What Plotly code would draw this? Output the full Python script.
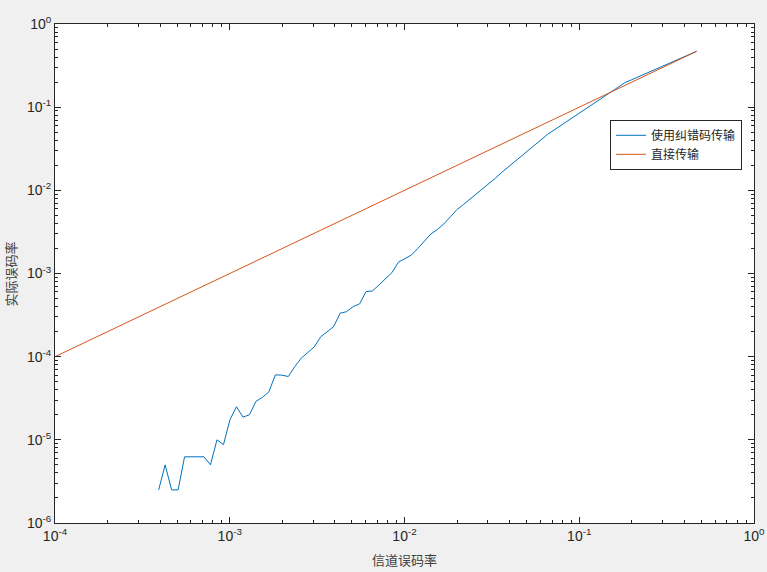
import plotly.graph_objects as go

# Channel bit-error-rate grid (x axis)
channel_ber = [
    1.0000e-4, 1.0891e-4, 1.1862e-4, 1.2918e-4, 1.4070e-4, 1.5323e-4, 1.6689e-4, 1.8176e-4, 1.9796e-4, 2.1560e-4,
    2.3481e-4, 2.5574e-4, 2.7853e-4, 3.0335e-4, 3.3039e-4, 3.5983e-4, 3.9190e-4, 4.2682e-4, 4.6486e-4, 5.0629e-4,
    5.5140e-4, 6.0054e-4, 6.5406e-4, 7.1235e-4, 7.7583e-4, 8.4497e-4, 9.2027e-4, 1.0034e-3, 1.0928e-3, 1.1903e-3,
    1.2962e-3, 1.4118e-3, 1.5375e-3, 1.6746e-3, 1.8238e-3, 1.9864e-3, 2.1634e-3, 2.3561e-3, 2.5661e-3, 2.7948e-3,
    3.0439e-3, 3.3152e-3, 3.6106e-3, 3.9324e-3, 4.2828e-3, 4.6645e-3, 5.0802e-3, 5.5329e-3, 6.0259e-3, 6.5630e-3,
    7.1479e-3, 7.7848e-3, 8.4786e-3, 9.2342e-3, 1.0068e-2, 1.0965e-2, 1.1944e-2, 1.3006e-2, 1.4166e-2, 1.5428e-2,
    1.6803e-2, 1.8300e-2, 1.9932e-2, 2.1708e-2, 2.3642e-2, 2.5749e-2, 2.8044e-2, 3.0543e-2, 3.3265e-2, 3.6229e-2,
    3.9459e-2, 4.2975e-2, 4.6805e-2, 5.0976e-2, 5.5518e-2, 6.0466e-2, 6.5855e-2, 7.1723e-2, 7.8114e-2, 8.5076e-2,
    9.2658e-2, 1.0102e-1, 1.1003e-1, 1.1985e-1, 1.3051e-1, 1.4214e-1, 1.5481e-1, 1.6861e-1, 1.8363e-1, 2.0000e-1,
    2.1782e-1, 2.3723e-1, 2.5837e-1, 2.8140e-1, 3.0648e-1, 3.3379e-1, 3.6354e-1, 3.9594e-1, 4.3122e-1, 4.6966e-1,
]

# Direct transmission: actual BER equals channel BER
direct_ber = [
    1.0000e-4, 1.0891e-4, 1.1862e-4, 1.2918e-4, 1.4070e-4, 1.5323e-4, 1.6689e-4, 1.8176e-4, 1.9796e-4, 2.1560e-4,
    2.3481e-4, 2.5574e-4, 2.7853e-4, 3.0335e-4, 3.3039e-4, 3.5983e-4, 3.9190e-4, 4.2682e-4, 4.6486e-4, 5.0629e-4,
    5.5140e-4, 6.0054e-4, 6.5406e-4, 7.1235e-4, 7.7583e-4, 8.4497e-4, 9.2027e-4, 1.0034e-3, 1.0928e-3, 1.1903e-3,
    1.2962e-3, 1.4118e-3, 1.5375e-3, 1.6746e-3, 1.8238e-3, 1.9864e-3, 2.1634e-3, 2.3561e-3, 2.5661e-3, 2.7948e-3,
    3.0439e-3, 3.3152e-3, 3.6106e-3, 3.9324e-3, 4.2828e-3, 4.6645e-3, 5.0802e-3, 5.5329e-3, 6.0259e-3, 6.5630e-3,
    7.1479e-3, 7.7848e-3, 8.4786e-3, 9.2342e-3, 1.0068e-2, 1.0965e-2, 1.1944e-2, 1.3006e-2, 1.4166e-2, 1.5428e-2,
    1.6803e-2, 1.8300e-2, 1.9932e-2, 2.1708e-2, 2.3642e-2, 2.5749e-2, 2.8044e-2, 3.0543e-2, 3.3265e-2, 3.6229e-2,
    3.9459e-2, 4.2975e-2, 4.6805e-2, 5.0976e-2, 5.5518e-2, 6.0466e-2, 6.5855e-2, 7.1723e-2, 7.8114e-2, 8.5076e-2,
    9.2658e-2, 1.0102e-1, 1.1003e-1, 1.1985e-1, 1.3051e-1, 1.4214e-1, 1.5481e-1, 1.6861e-1, 1.8363e-1, 2.0000e-1,
    2.1782e-1, 2.3723e-1, 2.5837e-1, 2.8140e-1, 3.0648e-1, 3.3379e-1, 3.6354e-1, 3.9594e-1, 4.3122e-1, 4.6966e-1,
]

# Coded transmission: measured BER (zero-error points at low channel BER are not drawn on log axes)
coded_channel_ber = channel_ber[16:]
coded_ber = [
    2.5e-6, 5.0e-6, 2.5e-6, 2.5e-6, 6.25e-6, 6.25e-6, 6.25e-6, 6.25e-6, 5.0e-6, 1.0e-5,
    8.75e-6, 1.75e-5, 2.5e-5, 1.875e-5, 2.0e-5, 2.9e-5, 3.24e-5, 3.78e-5, 6.04e-5, 6.0e-5,
    5.77e-5, 7.6e-5, 9.6e-5, 1.11e-4, 1.31e-4, 1.73e-4, 2.0e-4, 2.30e-4, 3.33e-4, 3.48e-4,
    4.0e-4, 4.31e-4, 6.06e-4, 6.18e-4, 7.3e-4, 8.78e-4, 1.025e-3, 1.37e-3, 1.50e-3, 1.67e-3,
    2.01e-3, 2.42e-3, 2.99e-3, 3.39e-3, 3.95e-3, 4.80e-3, 5.85e-3, 6.73e-3, 7.78e-3, 9.0e-3,
    1.045e-2, 1.213e-2, 1.41e-2, 1.66e-2, 1.93e-2, 2.24e-2, 2.60e-2, 3.01e-2, 3.49e-2, 4.08e-2,
    4.71e-2, 5.31e-2, 5.98e-2, 6.75e-2, 7.64e-2, 8.69e-2, 9.81e-2, 0.1105, 0.1245, 0.1403,
    0.1585, 0.1783, 0.1986, 0.2140, 0.2312, 0.2500, 0.2700, 0.2915, 0.3155, 0.3407,
    0.368, 0.397, 0.430, 0.470,
]

x_tick_vals = [1e-4, 1e-3, 1e-2, 1e-1, 1]
x_tick_text = ["10<sup>-4</sup>", "10<sup>-3</sup>", "10<sup>-2</sup>", "10<sup>-1</sup>", "10<sup>0</sup>"]
y_tick_vals = [1e-6, 1e-5, 1e-4, 1e-3, 1e-2, 1e-1, 1]
y_tick_text = ["10<sup>-6</sup>", "10<sup>-5</sup>", "10<sup>-4</sup>", "10<sup>-3</sup>",
               "10<sup>-2</sup>", "10<sup>-1</sup>", "10<sup>0</sup>"]

series_names = ["使用纠错码传输", "直接传输"]
x_title = "信道误码率"
y_title = "实际误码率"

fig = go.Figure()
fig.add_trace(go.Scatter(x=coded_channel_ber, y=coded_ber, mode="lines", name=series_names[0],
                         line=dict(color="#0072BD", width=1)))
fig.add_trace(go.Scatter(x=channel_ber, y=direct_ber, mode="lines", name=series_names[1],
                         line=dict(color="#D95319", width=1)))

axis_common = dict(
    type="log",
    automargin=False,
    showgrid=False,
    zeroline=False,
    showline=True,
    linecolor="#262626",
    linewidth=1,
    mirror="ticks",
    ticks="inside",
    ticklen=6,
    tickcolor="#262626",
    tickfont=dict(family="Liberation Sans, Arial, sans-serif", size=14, color="#262626"),
    minor=dict(ticks="inside", ticklen=3, tickcolor="#262626", dtick="D1", showgrid=False),
)

fig.update_xaxes(**axis_common, range=[-4, 0], tickvals=x_tick_vals, ticktext=x_tick_text)
fig.update_yaxes(**axis_common, range=[-6, 0], tickvals=y_tick_vals, ticktext=y_tick_text)

title_font = dict(family="Noto Sans CJK SC", size=13, color="#404040")
fig.add_annotation(text=x_title, xref="paper", yref="paper", x=0.5, y=-0.074,
                   xanchor="center", yanchor="middle", showarrow=False, font=title_font)
fig.add_annotation(text=y_title, xref="paper", yref="paper", x=-0.063, y=0.5, textangle=-90,
                   xanchor="center", yanchor="middle", showarrow=False, font=title_font)

fig.update_layout(
    width=767, height=572,
    paper_bgcolor="#f0f0f0",
    plot_bgcolor="white",
    margin=dict(l=55, r=13, t=24, b=49),
    showlegend=True,
    legend=dict(x=0.794, y=0.808, xanchor="left", yanchor="top",
                bgcolor="white", bordercolor="#262626", borderwidth=1,
                font=dict(family="Noto Sans CJK SC", size=12, color="#262626"),
                tracegroupgap=0, itemwidth=30),
)

fig.write_html("out.html",
               config={"displayModeBar": False},
               post_script="document.body.style.margin='0';document.body.style.background='#f0f0f0';")
